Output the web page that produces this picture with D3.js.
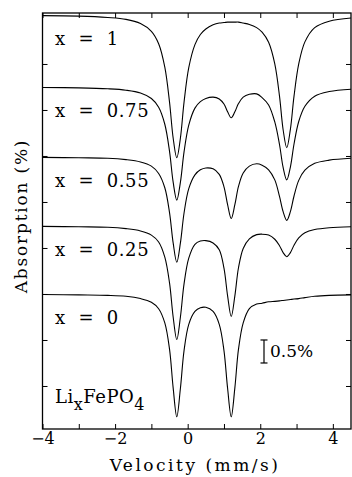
<!DOCTYPE html>
<html>
<head>
<meta charset="utf-8">
<script src="https://cdn.jsdelivr.net/npm/d3@7"></script>
<style>
  body { margin: 0; background: #fff; }
  svg { display: block; }
  text { font-family: "DejaVu Serif", "Liberation Serif", serif; fill: #000; }
</style>
</head>
<body>
<div id="chart"></div>
<script>
// velocity grid (mm/s), shared by every spectrum
const velocity = [-4.0, -3.0, -2.2, -1.7, -1.3, -1.0, -0.8, -0.63, -0.5, -0.4,
  -0.3, -0.2, -0.1, 0.03, 0.2, 0.35, 0.5, 0.7, 0.87, 1.0,
  1.1, 1.2, 1.3, 1.4, 1.53, 1.7, 1.9, 2.05, 2.23, 2.4,
  2.53, 2.63, 2.73, 2.83, 2.93, 3.06, 3.23, 3.5, 3.9, 4.5];

// absorption (%) below each spectrum's own baseline
const absX100 = [0.02, 0.03, 0.06, 0.10, 0.19, 0.36, 0.63, 1.14, 1.90, 2.68,
  3.11, 2.68, 1.90, 1.15, 0.65, 0.43, 0.31, 0.22, 0.18, 0.17,
  0.16, 0.16, 0.16, 0.16, 0.18, 0.21, 0.28, 0.38, 0.60, 1.07,
  1.77, 2.50, 2.89, 2.49, 1.77, 1.07, 0.59, 0.28, 0.14, 0.07];
const absX075 = [0.01, 0.02, 0.04, 0.07, 0.13, 0.25, 0.44, 0.81, 1.40, 2.07,
  2.46, 2.07, 1.41, 0.83, 0.46, 0.32, 0.25, 0.22, 0.26, 0.37,
  0.54, 0.67, 0.54, 0.36, 0.22, 0.16, 0.15, 0.23, 0.39, 0.76,
  1.25, 1.75, 2.02, 1.74, 1.24, 0.75, 0.42, 0.20, 0.10, 0.05];
const absX055 = [0.01, 0.02, 0.03, 0.06, 0.11, 0.20, 0.36, 0.67, 1.21, 1.87,
  2.29, 1.87, 1.22, 0.69, 0.39, 0.28, 0.24, 0.26, 0.38, 0.65,
  1.04, 1.34, 1.04, 0.64, 0.35, 0.20, 0.15, 0.18, 0.28, 0.50,
  0.86, 1.19, 1.38, 1.19, 0.85, 0.51, 0.29, 0.14, 0.07, 0.03];
const absX025 = [0.01, 0.02, 0.03, 0.06, 0.11, 0.20, 0.35, 0.68, 1.24, 1.98,
  2.47, 1.98, 1.26, 0.70, 0.40, 0.33, 0.32, 0.37, 0.52, 0.92,
  1.52, 1.97, 1.52, 0.91, 0.49, 0.28, 0.19, 0.18, 0.20, 0.29,
  0.43, 0.58, 0.67, 0.58, 0.42, 0.26, 0.15, 0.08, 0.04, 0.02];
const absX000 = [0.01, 0.02, 0.03, 0.05, 0.10, 0.18, 0.32, 0.63, 1.20, 2.04,
  2.67, 2.05, 1.23, 0.66, 0.38, 0.30, 0.29, 0.38, 0.66, 1.23,
  2.05, 2.67, 2.04, 1.20, 0.63, 0.32, 0.22, 0.20, 0.17, 0.16,
  0.15, 0.14, 0.13, 0.12, 0.11, 0.10, 0.08, 0.05, 0.03, 0.02];

const fractions = ['1', '0.75', '0.55', '0.25', '0'];
const baselines = [8.07, 6.50, 4.98, 3.48, 2.00];   // vertical offset (%) of each spectrum
const spectra = [absX100, absX075, absX055, absX025, absX000];

const xTicks = [-4, -3, -2, -1, 0, 1, 2, 3, 4];
const yTicks = [0, 1, 2, 3, 4, 5, 6, 7];
const scaleBar = [1.0, 0.5];   // 0.5 % bar

const width = 352, height = 477;
const plotL = 42.5, plotR = 351, plotT = 13, plotB = 429;

const svg = d3.select('#chart').append('svg')
  .attr('width', width)
  .attr('height', height);

const x = d3.scaleLinear().domain([-4, 4.5]).range([plotL, plotR]);
const y = d3.scaleLinear().domain([-0.935, 8.108]).range([plotB, plotT]);

svg.append('defs').append('clipPath').attr('id', 'plot')
  .append('rect')
  .attr('x', plotL).attr('y', plotT)
  .attr('width', plotR - plotL).attr('height', plotB - plotT);

// axes: inward ticks on all four sides
const fmt = d3.format('d');
svg.append('g')
  .attr('transform', `translate(0,${plotB})`)
  .call(d3.axisBottom(x).tickValues(xTicks).tickSize(-5).tickPadding(4)
    .tickFormat(d => d % 2 === 0 ? fmt(d) : ''))
  .call(g => g.select('.domain').remove())
  .call(g => g.selectAll('text').style('font-size', '16px')
    .style('font-family', '"DejaVu Serif", serif'));

svg.append('g')
  .attr('transform', `translate(0,${plotT})`)
  .call(d3.axisTop(x).tickValues(xTicks).tickSize(-5).tickFormat(''))
  .call(g => g.select('.domain').remove());

svg.append('g')
  .attr('transform', `translate(${plotL},0)`)
  .call(d3.axisLeft(y).tickValues(yTicks).tickSize(-5).tickFormat(''))
  .call(g => g.select('.domain').remove());

svg.append('g')
  .attr('transform', `translate(${plotR},0)`)
  .call(d3.axisRight(y).tickValues(yTicks).tickSize(-5).tickFormat(''))
  .call(g => g.select('.domain').remove());

svg.selectAll('.tick line').attr('stroke', '#000').attr('stroke-width', 1);

svg.append('rect')
  .attr('x', plotL).attr('y', plotT)
  .attr('width', plotR - plotL).attr('height', plotB - plotT)
  .attr('fill', 'none')
  .attr('stroke', '#000')
  .attr('stroke-width', 1.3);

// spectra
const plot = svg.append('g').attr('clip-path', 'url(#plot)');
spectra.forEach((abs, k) => {
  const line = d3.line()
    .x((d, i) => x(velocity[i]))
    .y(d => y(baselines[k] - d))
    .curve(d3.curveCatmullRom.alpha(0.5));
  plot.append('path')
    .datum(abs)
    .attr('d', line)
    .attr('fill', 'none')
    .attr('stroke', '#000')
    .attr('stroke-width', 1.1);
});

// composition labels
fractions.forEach((f, k) => {
  svg.append('text')
    .attr('x', 55)
    .attr('y', y(baselines[k]) + 30)
    .style('font-size', '18px')
    .style('letter-spacing', '0.6px')
    .style('white-space', 'pre')
    .text('x  =  ' + f);
});

// formula
const formula = svg.append('text')
  .attr('x', 55).attr('y', 403)
  .style('font-size', '18px')
  .style('letter-spacing', '0.5px');
formula.append('tspan').text('Li');
formula.append('tspan').attr('dy', 7).style('font-size', '16px').text('x');
formula.append('tspan').attr('dy', -7).text('FePO');
formula.append('tspan').attr('dy', 7).style('font-size', '16px').text('4');

// 0.5 % scale bar
const barX = 264;
svg.append('line')
  .attr('x1', barX).attr('x2', barX)
  .attr('y1', y(scaleBar[0])).attr('y2', y(scaleBar[1]))
  .attr('stroke', '#000').attr('stroke-width', 1.2);
scaleBar.forEach(v => {
  svg.append('line')
    .attr('x1', barX - 3.5).attr('x2', barX + 3.5)
    .attr('y1', y(v)).attr('y2', y(v))
    .attr('stroke', '#000').attr('stroke-width', 1.2);
});
svg.append('text')
  .attr('x', barX + 6)
  .attr('y', y(d3.mean(scaleBar)) + 6)
  .style('font-size', '17px')
  .text('0.5%');

// axis titles
svg.append('text')
  .attr('x', 195).attr('y', 471)
  .attr('text-anchor', 'middle')
  .style('font-size', '17px')
  .style('letter-spacing', '2.5px')
  .text('Velocity (mm/s)');

svg.append('text')
  .attr('transform', 'translate(27,216) rotate(-90)')
  .attr('text-anchor', 'middle')
  .style('font-size', '17px')
  .style('letter-spacing', '1.8px')
  .text('Absorption (%)');
</script>
</body>
</html>
